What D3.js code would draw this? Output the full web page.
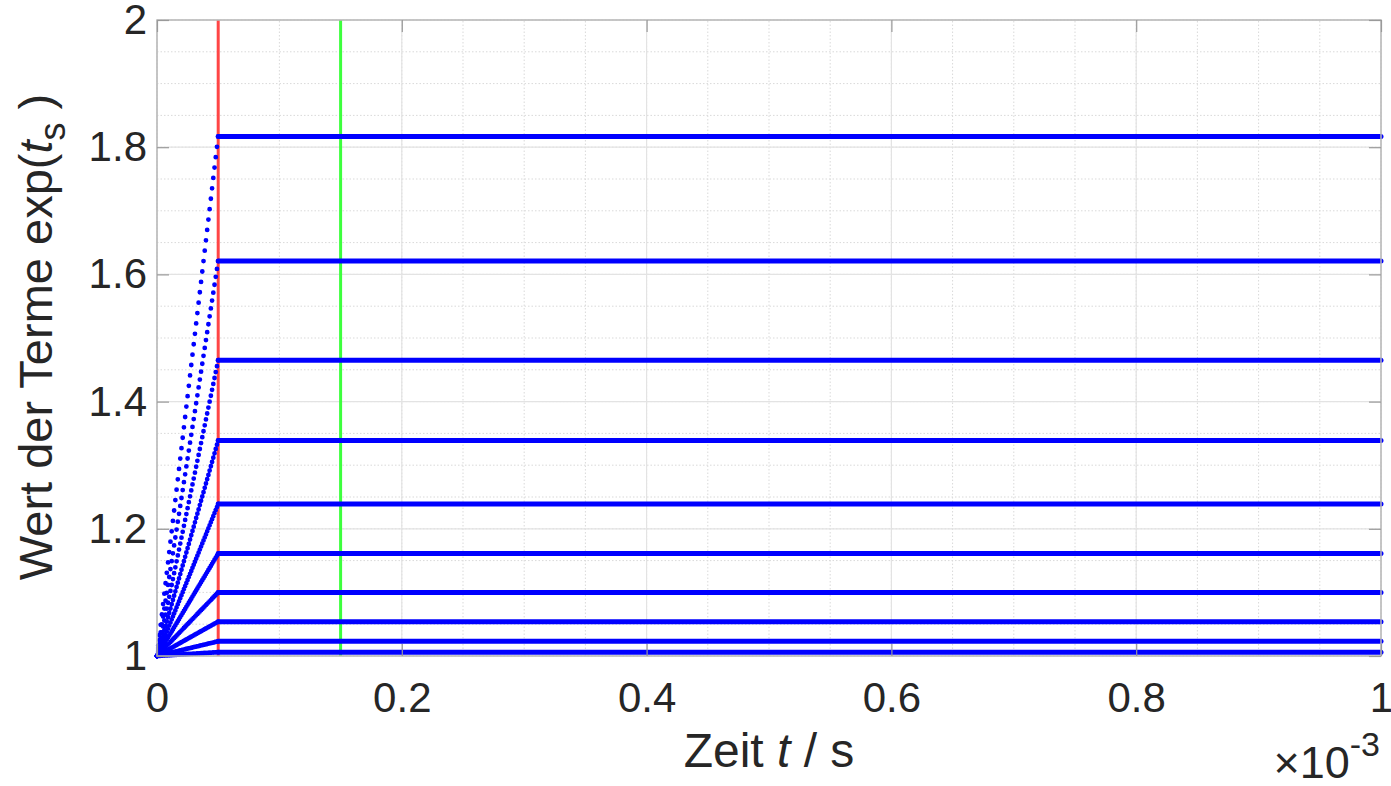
<!DOCTYPE html>
<html>
<head>
<meta charset="utf-8">
<style>
  body { margin: 0; background: #fff; }
  svg text { font-family: "Liberation Sans", Arial, Helvetica, sans-serif; fill: #262626; }
</style>
</head>
<body>
<svg id="chart"></svg>
<script src="https://d3js.org/d3.v7.min.js"></script>
<script>
// levels reached by the terms after the switch time
var levels = [1.006, 1.023, 1.054, 1.100, 1.161, 1.239, 1.339, 1.465, 1.621, 1.817];
var tStart = 0, tSwitch = 0.05e-3, tEnd = 1e-3;
var tRed = 0.05e-3, tGreen = 0.15e-3;
var xTicks = [0, 0.2e-3, 0.4e-3, 0.6e-3, 0.8e-3, 1e-3];
var yTicks = [1, 1.2, 1.4, 1.6, 1.8, 2];
var rampSteps = 50; // samples on the rising part

var width = 1391, height = 786;
var padding = {top: 20, right: 10, bottom: 130, left: 157};
var svg = d3.select("#chart").attr("width", width).attr("height", height);

var xScale = d3.scaleLinear().domain([0, 1e-3]).range([padding.left, 1381]);
var yScale = d3.scaleLinear().domain([1, 2]).range([656, padding.top]);
var x0 = xScale.range()[0], x1 = xScale.range()[1];
var y0 = yScale.range()[0], y1 = yScale.range()[1];

//网格 minor
var xMinor = d3.range(0, 21).map(function(i){ return i * 0.05e-3; });
var yMinor = d3.range(0, 21).map(function(i){ return 1 + i * 0.05; });
svg.append("g").selectAll("line").data(xMinor).enter().append("line")
  .attr("x1", function(d){ return xScale(d); }).attr("x2", function(d){ return xScale(d); })
  .attr("y1", y0).attr("y2", y1)
  .attr("stroke", "#d9d9d9").attr("stroke-width", 1).attr("stroke-dasharray", "1.5,2");
svg.append("g").selectAll("line").data(yMinor).enter().append("line")
  .attr("y1", function(d){ return yScale(d); }).attr("y2", function(d){ return yScale(d); })
  .attr("x1", x0).attr("x2", x1)
  .attr("stroke", "#d9d9d9").attr("stroke-width", 1).attr("stroke-dasharray", "1.5,2");
//网格 major
svg.append("g").selectAll("line").data(xTicks).enter().append("line")
  .attr("x1", function(d){ return xScale(d); }).attr("x2", function(d){ return xScale(d); })
  .attr("y1", y0).attr("y2", y1)
  .attr("stroke", "#e3e3e3").attr("stroke-width", 1.2);
svg.append("g").selectAll("line").data(yTicks).enter().append("line")
  .attr("y1", function(d){ return yScale(d); }).attr("y2", function(d){ return yScale(d); })
  .attr("x1", x0).attr("x2", x1)
  .attr("stroke", "#e3e3e3").attr("stroke-width", 1.2);

// marker lines
svg.append("line")
  .attr("x1", xScale(tRed)).attr("x2", xScale(tRed)).attr("y1", y0).attr("y2", y1)
  .attr("stroke", "#ff4545").attr("stroke-width", 3);
svg.append("line")
  .attr("x1", xScale(tGreen)).attr("x2", xScale(tGreen)).attr("y1", y0).attr("y2", y1)
  .attr("stroke", "#3dff3d").attr("stroke-width", 3);

// terms
var line = d3.line()
  .x(function(d){ return xScale(d[0]); })
  .y(function(d){ return yScale(d[1]); });
levels.forEach(function(v){
  var ramp = svg.append("path")
    .attr("d", line([[tStart, 1], [tSwitch, v]]))
    .attr("fill", "none").attr("stroke", "#0000ff")
    .attr("stroke-width", 4.8).attr("stroke-linecap", "round");
  var len = ramp.node().getTotalLength();
  ramp.attr("stroke-dasharray", "0," + (len / rampSteps));
  svg.append("path")
    .attr("d", line([[tSwitch, v], [tEnd, v]]))
    .attr("fill", "none").attr("stroke", "#0000ff")
    .attr("stroke-width", 5).attr("stroke-linecap", "round");
});

// box
svg.append("rect")
  .attr("x", x0).attr("y", y1).attr("width", x1 - x0).attr("height", y0 - y1)
  .attr("fill", "none").attr("stroke", "#b8b8b8").attr("stroke-width", 1.5);

//轴线
var tickLen = 12;
var xAxis = d3.axisBottom(xScale).tickValues(xTicks)
  .tickSize(-tickLen).tickPadding(22)
  .tickFormat(function(d){ return d3.format("~g")(+(d * 1e3).toFixed(6)); });
var gx = svg.append("g").attr("transform", "translate(0," + y0 + ")").call(xAxis);
var yAxis = d3.axisLeft(yScale).tickValues(yTicks)
  .tickSize(-tickLen).tickPadding(10)
  .tickFormat(function(d){ return d3.format("~g")(d); });
var gy = svg.append("g").attr("transform", "translate(" + x0 + ",0)").call(yAxis);
var gxt = svg.append("g").attr("transform", "translate(0," + y1 + ")")
  .call(d3.axisTop(xScale).tickValues(xTicks).tickSize(-tickLen).tickFormat(""));
var gyr = svg.append("g").attr("transform", "translate(" + x1 + ",0)")
  .call(d3.axisRight(yScale).tickValues(yTicks).tickSize(-tickLen).tickFormat(""));
[gx, gy, gxt, gyr].forEach(function(g){
  g.select(".domain").remove();
  g.selectAll(".tick line").attr("stroke", "#9a9a9a").attr("stroke-width", 1.2);
  g.selectAll(".tick text").attr("font-size", 42).attr("fill", "#262626")
    .style("font-family", "'Liberation Sans', Arial, sans-serif");
});
gx.selectAll(".tick text").attr("dy", "0.71em").attr("y", 26);

// labels
var xl = svg.append("text").attr("x", (x0 + x1) / 2).attr("y", 767)
  .attr("text-anchor", "middle").attr("font-size", 48);
xl.append("tspan").text("Zeit ");
xl.append("tspan").attr("font-style", "italic").text("t");
xl.append("tspan").text(" / s");

var yl = svg.append("text")
  .attr("transform", "translate(52,337) rotate(-90)")
  .attr("text-anchor", "middle").attr("font-size", 47);
yl.append("tspan").text("Wert der Terme exp(");
yl.append("tspan").attr("font-style", "italic").text("t");
yl.append("tspan").attr("font-size", 36).attr("dy", 13).text("s");
yl.append("tspan").attr("dy", -13).text(" )");

var ex = svg.append("text").attr("x", 1380).attr("y", 778)
  .attr("text-anchor", "end").attr("font-size", 45);
ex.append("tspan").text("\u00d710");
ex.append("tspan").attr("font-size", 34).attr("dy", -22).text("-3");
</script>
</body>
</html>
